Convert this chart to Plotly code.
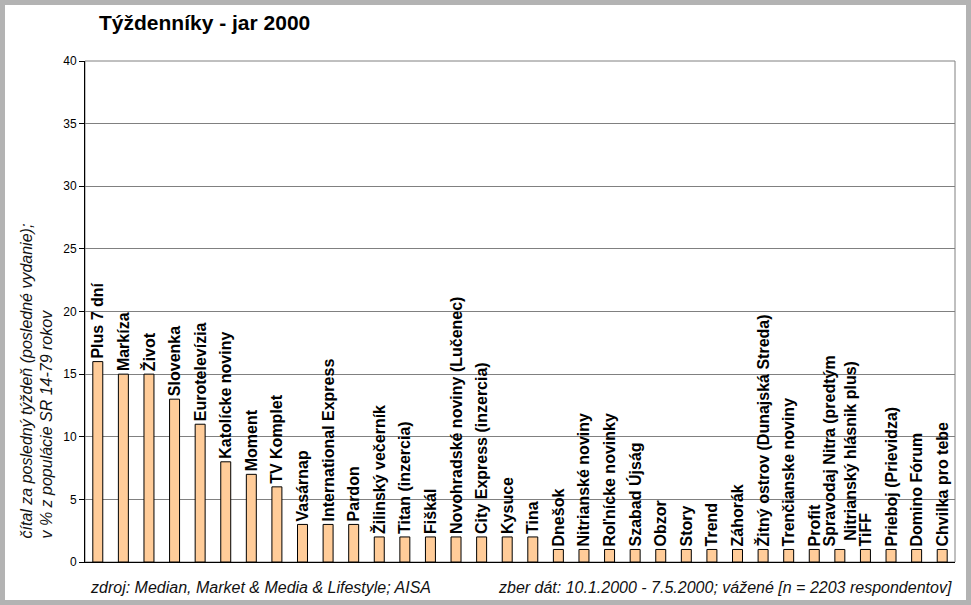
import plotly.graph_objects as go

categories = [
    "Plus 7 dní", "Markíza", "Život", "Slovenka", "Eurotelevízia",
    "Katolícke noviny", "Moment", "TV Komplet", "Vasárnap",
    "International Express", "Pardon", "Žilinský večerník",
    "Titan (inzercia)", "Fiškál", "Novohradské noviny (Lučenec)",
    "City Express (inzercia)", "Kysuce", "Tina", "Dnešok",
    "Nitrianské noviny", "Roľnícke novinky", "Szabad Újság", "Obzor",
    "Story", "Trend", "Záhorák", "Žitný ostrov (Dunajská Streda)",
    "Trenčianske noviny", "Profit",
    "Spravodaj Nitra (predtým<br>Nitrianský hlásnik plus)",
    "TiFF", "Prieboj (Prievidza)", "Domino Fórum", "Chvilka pro tebe",
]
values = [16, 15, 15, 13, 11, 8, 7, 6, 3, 3, 3, 2, 2, 2, 2, 2, 2, 2,
          1, 1, 1, 1, 1, 1, 1, 1, 1, 1, 1, 1, 1, 1, 1, 1]
y_ticks = [0, 5, 10, 15, 20, 25, 30, 35, 40]

title_text = "Týždenníky - jar 2000"
y_title = "čítal za posledný týždeň (posledné vydanie);<br>v % z populácie SR 14-79 rokov"
source_text = "zdroj: Median, Market & Media & Lifestyle; AISA"
sample_text = "zber dát: 10.1.2000 - 7.5.2000; vážené [n = 2203 respondentov]"

W, H = 971, 605
L, R, T, B = 85, 16, 61, 43
PW, PH = W - L - R, H - T - B

def px_x(px):
    return (px - L) / PW

def px_y(py):
    return (H - B - py) / PH

FONT = "Liberation Sans, Arial, sans-serif"

fig = go.Figure()
fig.add_trace(go.Bar(
    x=categories,
    y=values,
    text=categories,
    textposition="outside",
    textangle=-90,
    constraintext="none",
    cliponaxis=False,
    textfont=dict(family=FONT, size=16, color="black", weight="bold"),
    marker=dict(color="#FFCC99", line=dict(color="black", width=1)),
    hoverinfo="x+y",
))

fig.update_layout(
    width=W, height=H,
    margin=dict(l=L, r=R, t=T, b=B, autoexpand=False),
    paper_bgcolor="white",
    plot_bgcolor="white",
    bargap=0.61,
    showlegend=False,
    font=dict(family=FONT, color="black"),
    xaxis=dict(
        type="category",
        showticklabels=False,
        showgrid=False,
        showline=True, linecolor="black", linewidth=1,
        ticks="",
        zeroline=False,
        fixedrange=True,
    ),
    yaxis=dict(
        range=[0, 40],
        tickvals=y_ticks,
        ticktext=[str(v) for v in y_ticks],
        showgrid=True, gridcolor="#808080", gridwidth=1,
        showline=True, linecolor="black", linewidth=1,
        ticks="outside", ticklen=5, tickcolor="black", tickwidth=1,
        tickfont=dict(family=FONT, size=12, color="black"),
        zeroline=False,
        fixedrange=True,
    ),
    shapes=[
        dict(type="rect", xref="paper", yref="paper", x0=0, x1=1, y0=0, y1=1,
             line=dict(color="#808080", width=1), layer="below"),
        dict(type="rect", xref="paper", yref="paper",
             x0=px_x(0), x1=px_x(W), y0=px_y(H), y1=px_y(0),
             line=dict(color="#b3b3b3", width=10), fillcolor="rgba(0,0,0,0)",
             layer="above"),
    ],
    annotations=[
        dict(text=title_text, xref="paper", yref="paper",
             x=px_x(97), y=px_y(22.5), xanchor="left", yanchor="middle",
             showarrow=False,
             font=dict(family=FONT, size=21, color="black", weight="bold")),
        dict(text=y_title, xref="paper", yref="paper",
             x=px_x(36), y=px_y(541), xanchor="center", yanchor="bottom",
             textangle=-90, align="left", showarrow=False,
             font=dict(family=FONT, size=16, color="#111111", style="italic")),
        dict(text=source_text, xref="paper", yref="paper",
             x=px_x(88), y=px_y(587), xanchor="left", yanchor="middle",
             showarrow=False,
             font=dict(family=FONT, size=16, color="#111111", style="italic")),
        dict(text=sample_text, xref="paper", yref="paper",
             x=px_x(954), y=px_y(587), xanchor="right", yanchor="middle",
             showarrow=False,
             font=dict(family=FONT, size=16, color="#111111", style="italic")),
    ],
)

fig.write_html(
    "out.html",
    config={"displayModeBar": False},
    post_script="document.body.style.margin='0';document.body.style.overflow='hidden';",
)
